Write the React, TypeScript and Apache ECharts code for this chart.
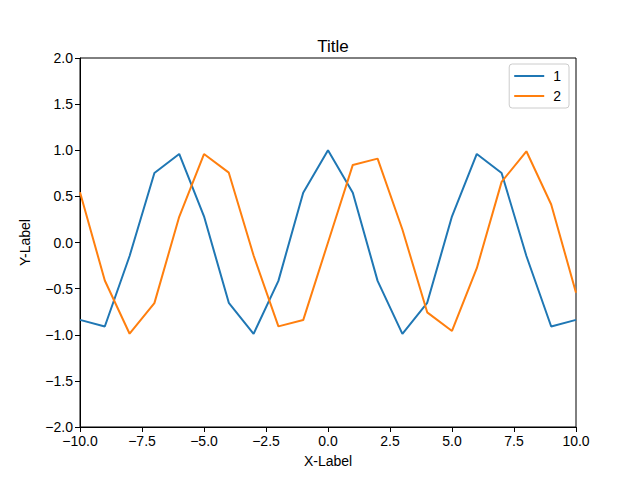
import React, { useEffect, useRef } from "react";
import * as echarts from "echarts";

const xValues = [-10, -9, -8, -7, -6, -5, -4, -3, -2, -1, 0, 1, 2, 3, 4, 5, 6, 7, 8, 9, 10];
const series1 = [-0.839, -0.911, -0.146, 0.754, 0.96, 0.284, -0.654, -0.99, -0.416, 0.54, 1.0, 0.54, -0.416, -0.99, -0.654, 0.284, 0.96, 0.754, -0.146, -0.911, -0.839];
const series2 = [0.544, -0.412, -0.989, -0.657, 0.279, 0.959, 0.757, -0.141, -0.909, -0.841, 0.0, 0.841, 0.909, 0.141, -0.757, -0.959, -0.279, 0.657, 0.989, 0.412, -0.544];
const seriesNames = ["1", "2"];

const FONT = "'Liberation Sans', Arial, sans-serif";
const fmt = (v: number) => v.toFixed(1).replace("-", "\u2212");

export default function App() {
  const ref = useRef<HTMLDivElement>(null);
  useEffect(() => {
    document.body.style.margin = "0";
    const chart = echarts.init(ref.current!, null, { renderer: "svg" });
    chart.setOption({
      animation: false,
      backgroundColor: "#ffffff",
      textStyle: { fontFamily: FONT },
      title: {
        text: "Title",
        left: 328,
        top: 33,
        textAlign: "center",
        textStyle: { fontFamily: FONT, fontSize: 17, fontWeight: "normal", color: "#000" },
      },
      legend: {
        orient: "vertical",
        right: 71,
        top: 64,
        itemWidth: 30,
        itemHeight: 2,
        itemGap: 6,
        padding: [5, 8, 5, 5],
        borderColor: "#cccccc",
        borderWidth: 1,
        borderRadius: 3,
        backgroundColor: "#ffffff",
        icon: "rect",
        textStyle: { fontFamily: FONT, fontSize: 14, color: "#000", padding: [0, 0, 0, 4] },
        data: seriesNames,
      },
      grid: {
        left: 80,
        right: 64,
        top: 58,
        bottom: 53,
        show: true,
        borderColor: "#000",
        borderWidth: 1,
        backgroundColor: "transparent",
      },
      xAxis: {
        type: "value",
        min: -10,
        max: 10,
        interval: 2.5,
        name: "X-Label",
        nameLocation: "middle",
        nameGap: 27,
        nameTextStyle: { fontFamily: FONT, fontSize: 14, color: "#000" },
        axisLine: { show: true, onZero: false, lineStyle: { color: "#000" } },
        axisTick: { show: true, length: 5, lineStyle: { color: "#000" } },
        axisLabel: { formatter: fmt, fontFamily: FONT, fontSize: 14, color: "#000", margin: 7 },
        splitLine: { show: false },
      },
      yAxis: {
        type: "value",
        min: -2,
        max: 2,
        interval: 0.5,
        name: "Y-Label",
        nameLocation: "middle",
        nameGap: 48,
        nameTextStyle: { fontFamily: FONT, fontSize: 14, color: "#000" },
        axisLine: { show: true, onZero: false, lineStyle: { color: "#000" } },
        axisTick: { show: true, length: 5, lineStyle: { color: "#000" } },
        axisLabel: { formatter: fmt, fontFamily: FONT, fontSize: 14, color: "#000", margin: 7 },
        splitLine: { show: false },
      },
      series: [
        {
          name: seriesNames[0],
          type: "line",
          data: xValues.map((x, i) => [x, series1[i]]),
          showSymbol: false,
          symbol: "none",
          lineStyle: { color: "#1f77b4", width: 2 },
          itemStyle: { color: "#1f77b4" },
        },
        {
          name: seriesNames[1],
          type: "line",
          data: xValues.map((x, i) => [x, series2[i]]),
          showSymbol: false,
          symbol: "none",
          lineStyle: { color: "#ff7f0e", width: 2 },
          itemStyle: { color: "#ff7f0e" },
        },
      ],
    });
    return () => chart.dispose();
  }, []);
  return <div ref={ref} style={{ width: 640, height: 480 }} />;
}
